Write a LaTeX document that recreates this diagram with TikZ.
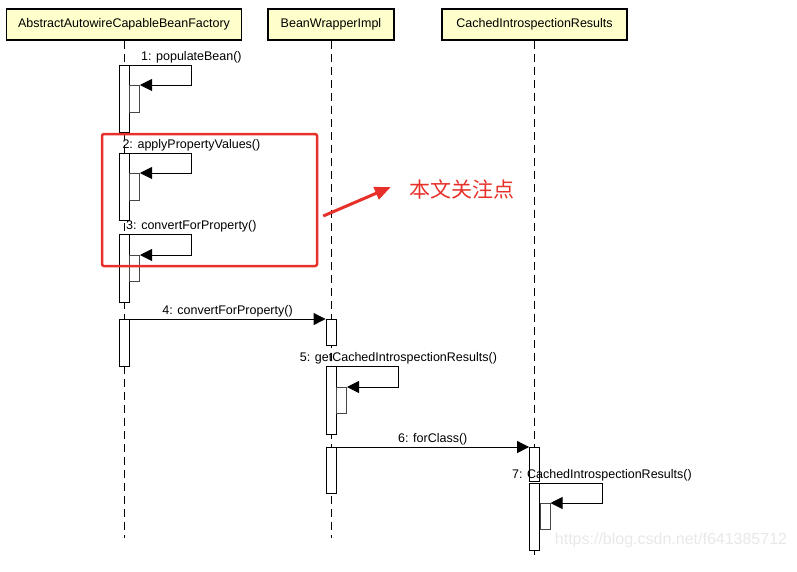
\documentclass[tikz,border=0pt]{standalone}
\usepackage{fontspec}
\setmainfont{Liberation Sans}
\newfontfamily\cjkfont{Noto Sans CJK SC}
\usetikzlibrary{arrows.meta}
\definecolor{headfill}{RGB}{255,255,204}
\definecolor{markred}{RGB}{232,48,42}
\tikzset{
  head/.style={draw, line width=1.3pt, fill=headfill, minimum height=31, inner sep=0pt,
    font=\fontsize{12.5}{14}\selectfont},
  lifeline/.style={dash pattern=on 8pt off 5pt, line width=0.9pt},
  actbar/.style={draw, fill=white, line width=0.8pt, minimum width=10, inner sep=0pt,
    anchor=north, minimum height=#1},
  nestbar/.style={draw=gray!55!black, line width=1pt, minimum width=10, inner sep=0pt,
    anchor=north west, minimum height=#1},
  msg/.style={line width=0.8pt, -{Triangle[length=12pt,width=12pt]}},
  msglabel/.style={font=\fontsize{12.5}{14}\selectfont, inner sep=1.5pt, above}
}
\begin{document}
\begin{tikzpicture}[x=1pt, y=-1pt]
    \useasboundingbox (0,0) rectangle (797,571);

    % Heads
    \node[head, minimum width=235] (factory) at (124,24.5) {AbstractAutowireCapableBeanFactory};
    \node[head, minimum width=126] (wrapper) at (331,24.5) {BeanWrapperImpl};
    \node[head, minimum width=185] (cached) at (534.5,24.5) {CachedIntrospectionResults};

    % Lifelines
    \draw[lifeline] (factory.south) -- (124,538);
    \draw[lifeline] (wrapper.south) -- (331,538);
    \draw[lifeline] (cached.south) -- (534.5,555);

    % Activations on AbstractAutowireCapableBeanFactory
    \node[actbar=67] (a1) at (124,65) {};
    \node[actbar=67] (a2) at (124,153) {};
    \node[actbar=68] (a3) at (124,234) {};
    \node[actbar=47] (a4) at (124,319) {};
    \node[nestbar=27] (n1) at (129,85) {};
    \node[nestbar=27] (n2) at (129,173) {};
    \node[nestbar=26] (n3) at (129,255) {};

    % Activations on BeanWrapperImpl
    \node[actbar=26] (b1) at (331,319) {};
    \node[actbar=68] (b2) at (331,366) {};
    \node[actbar=46] (b3) at (331,447) {};
    \node[nestbar=26] (n5) at (336,387) {};

    % Activations on CachedIntrospectionResults
    \node[actbar=34] (c1) at (534.5,447) {};
    \node[actbar=67] (c2) at (534.5,483) {};
    \node[nestbar=26] (n7) at (539.5,503) {};

    % Self calls
    \draw[msg] (a1.north east) -- ++(62,0) node[msglabel] {1: populateBean()} |- (n1.north east);
    \draw[msg] (a2.north east) -- ++(62,0) node[msglabel] {2: applyPropertyValues()} |- (n2.north east);
    \draw[msg] (a3.north east) -- ++(62,0) node[msglabel] {3: convertForProperty()} |- (n3.north east);
    \draw[msg] (b2.north east) -- ++(62,0) node[msglabel] {5: getCachedIntrospectionResults()} |- (n5.north east);
    \draw[msg] (c2.north east) -- ++(62,0) node[msglabel] {7: CachedIntrospectionResults()} |- (n7.north east);

    % Calls between objects
    \draw[msg] (a4.north east) -- node[msglabel] {4: convertForProperty()} (b1.north west);
    \draw[msg] (b3.north east) -- node[msglabel] {6: forClass()} (c1.north west);

    % Marked part
    \node[draw=markred, line width=2.5pt, rounded corners=2pt, minimum width=215, minimum height=132] (focus) at (209.5,200) {};
    \node[text=markred, inner sep=0pt, font=\cjkfont\fontsize{21}{24}\selectfont] (note) at (461.5,189) {本文关注点};
    \draw[markred, line width=3pt, -{Triangle[length=16pt,width=13pt]}]
        ([xshift=5pt,yshift=-16pt]focus.east) -- ([xshift=-18pt,yshift=2pt]note.west);

    % Watermark
    \node[text=gray!18, font=\fontsize{16}{18}\selectfont] (mark) at (671,540) {https://blog.csdn.net/f641385712};
\end{tikzpicture}
\end{document}
